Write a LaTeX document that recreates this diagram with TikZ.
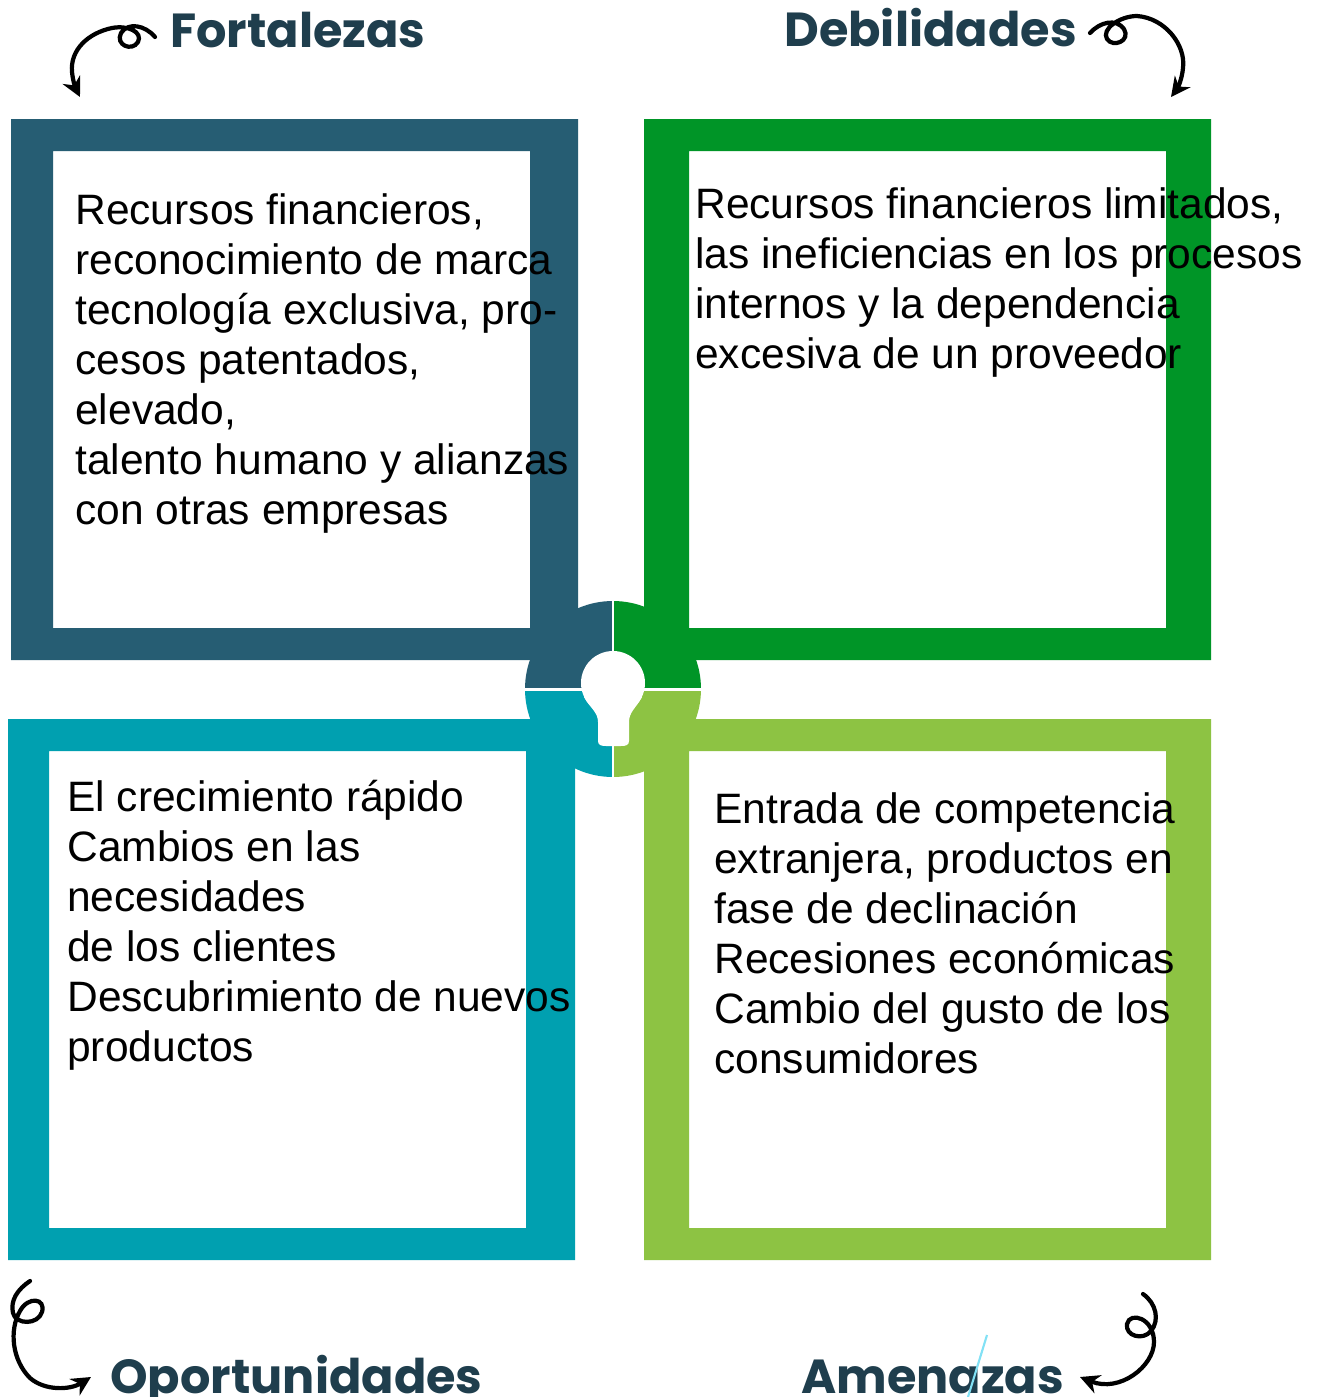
\documentclass[tikz,border=0pt]{standalone}
\usepackage{fontspec}
\setmainfont{Liberation Sans}
\newfontfamily\titlefamily{Poppins}
\usepackage{xcolor}
\definecolor{Col1}{RGB}{38,93,115}
\definecolor{Col2}{RGB}{0,149,39}
\definecolor{Col3}{RGB}{0,160,176}
\definecolor{Col4}{RGB}{141,195,67}
\definecolor{ColT}{RGB}{31,62,77}
\definecolor{ColL}{RGB}{130,225,245}
\usepackage{tikz}
\usetikzlibrary{arrows.meta}
\newcommand{\bodyfont}{\fontsize{24.2}{28.45}\selectfont}
\newcommand{\headfont}{\titlefamily\bfseries\fontsize{27.2}{30}\selectfont}
\tikzstyle{Frame}=[even odd rule]
\tikzstyle{Body}=[anchor=base west,inner sep=0pt,align=left,font=\bodyfont]
\tikzstyle{Head}=[anchor=base west,inner sep=0pt,font=\headfont,text=ColT]
\tikzstyle{Curl}=[draw=black,line width=2.4pt,line cap=round,
-{Stealth[length=11pt,width=11pt]}]
\tikzstyle{Gap}=[draw=white,line width=1.7pt]

\begin{document}
\begin{tikzpicture}[x=0.02cm,y=-0.02cm]
        \useasboundingbox[fill=white](0,0)rectangle(1322,1397);
        \fill[Col1,Frame](11,119)rectangle(578,660)(53,151)rectangle(530,628);
        \fill[Col2,Frame](644,119)rectangle(1211,660)(689,151)rectangle(1166,628);
        \fill[Col3,Frame](8,719)rectangle(575,1260)(49,751)rectangle(526,1228);
        \fill[Col4,Frame](644,719)rectangle(1211,1260)(689,751)rectangle(1166,1228);
        \coordinate(c)at(613,689);
        \begin{scope}
            \clip(c)circle[radius=88];
            \fill[Col1](513,589)rectangle(c);
            \fill[Col2](713,589)rectangle(c);
            \fill[Col3](513,789)rectangle(c);
            \fill[Col4](713,789)rectangle(c);
        \end{scope}
        \draw[Gap](613,598)--(613,780);
        \draw[Gap](522,689)--(704,689);
        \fill[white](613,683)circle[radius=32];
        \fill[white](584,697)--(642,697)
            .. controls (636,708) and (629,712) .. (629,722)--(629,741)
            .. controls (629,745) and (626,746) .. (621,746)--(606,746)
            .. controls (601,746) and (598,745) .. (598,741)--(598,722)
            .. controls (598,712) and (590,708) .. (584,697)--cycle;
        \node[Body](tF)at(75,524){Recursos financieros,\\
            reconocimiento de marca\\tecnología exclusiva, pro-\\
            cesos patentados,\\elevado,\\talento humano y alianzas\\
            con otras empresas};
        \node[Body](tD)at(695,368){Recursos financieros limitados,\\
            las ineficiencias en los procesos\\internos y la dependencia\\
            excesiva de un proveedor};
        \node[Body](tO)at(67,1061){El crecimiento rápido\\Cambios en las\\
            necesidades\\de los clientes\\Descubrimiento de nuevos\\
            productos};
        \node[Body](tA)at(714,1073){Entrada de competencia\\
            extranjera, productos en\\fase de declinación\\
            Recesiones económicas\\Cambio del gusto de los\\
            consumidores};
        \node[Head](hF)at(170,47){Fortalezas};
        \node[Head](hD)at(784,46){Debilidades};
        \node[Head](hO)at(110,1393){Oportunidades};
        \node[Head](hA)at(801,1393){Amenazas};
        \draw[ColL,line width=1.2pt](987,1335)--(968,1397);
        \coordinate(aF1)at(155,37);
        \coordinate(aF2)at(80,97);
        \draw[Curl](aF1) .. controls (145,25) and (128,22) .. (121,33)
            .. controls (115,45) and (132,52) .. (138,42)
            .. controls (143,32) and (128,25) .. (112,28)
            .. controls (88,33) and (70,50) .. (72,72)
            .. controls (73,82) and (76,89) .. (aF2);
        \coordinate(aD1)at(1090,33);
        \coordinate(aD2)at(1171,97);
        \draw[Curl](aD1) .. controls (1100,22) and (1116,18) .. (1124,29)
            .. controls (1131,41) and (1113,48) .. (1107,39)
            .. controls (1101,29) and (1120,16) .. (1137,16)
            .. controls (1165,18) and (1186,45) .. (1183,68)
            .. controls (1182,80) and (1177,89) .. (aD2);
        \coordinate(aO1)at(30,1281);
        \coordinate(aO2)at(91,1377);
        \draw[Curl](aO1) .. controls (18,1289) and (10,1300) .. (13,1313)
            .. controls (16,1325) and (38,1325) .. (42,1312)
            .. controls (46,1298) and (28,1296) .. (20,1311)
            .. controls (9,1330) and (12,1360) .. (30,1378)
            .. controls (45,1391) and (70,1390) .. (aO2);
        \coordinate(aA1)at(1143,1294);
        \coordinate(aA2)at(1080,1377);
        \draw[Curl](aA1) .. controls (1156,1303) and (1160,1320) .. (1151,1331)
            .. controls (1143,1341) and (1125,1336) .. (1127,1324)
            .. controls (1130,1311) and (1154,1318) .. (1154,1342)
            .. controls (1154,1366) and (1120,1393) .. (aA2);
    \end{tikzpicture}
\end{document}
